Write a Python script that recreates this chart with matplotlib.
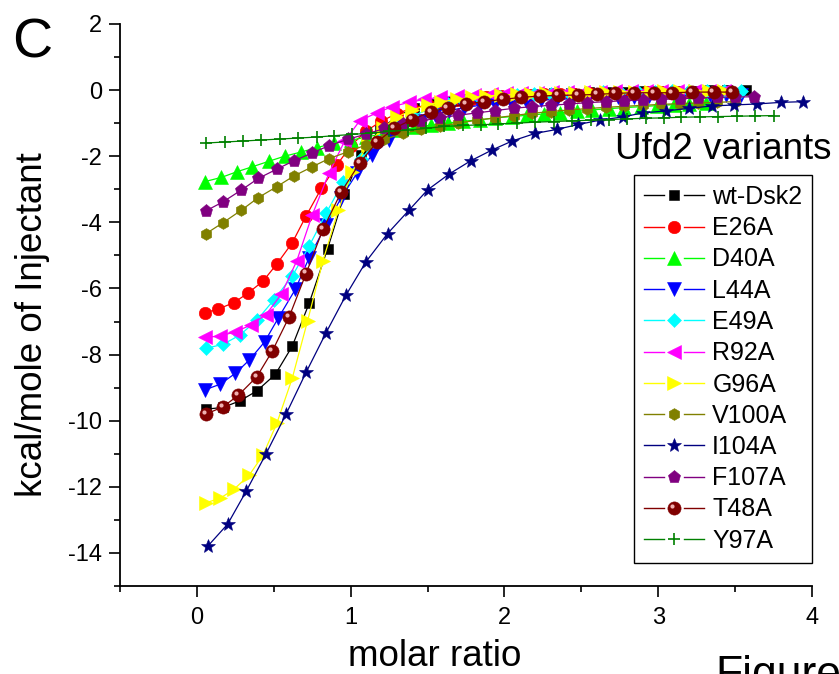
import matplotlib
matplotlib.use("Agg")
import matplotlib.pyplot as plt
from matplotlib.lines import Line2D
from matplotlib.legend_handler import HandlerBase
from matplotlib.ticker import MultipleLocator
from matplotlib.transforms import ScaledTranslation

plt.rcParams['font.family'] = ['Liberation Sans', 'DejaVu Sans']
plt.rcParams['axes.unicode_minus'] = False

# ---------------- data ----------------
labels = ["wt-Dsk2", "E26A", "D40A", "L44A", "E49A", "R92A", "G96A",
          "V100A", "I104A", "F107A", "T48A", "Y97A"]

x_wt = [0.06, 0.17, 0.28, 0.39, 0.51, 0.62, 0.73, 0.85, 0.96, 1.07, 1.19, 1.30, 1.41, 1.53, 1.64, 1.75,
        1.87, 1.98, 2.09, 2.21, 2.32, 2.43, 2.55, 2.66, 2.77, 2.89, 3.00, 3.11, 3.23, 3.34, 3.45, 3.57]
y_wt = [-9.65, -9.6, -9.4, -9.1, -8.6, -7.75, -6.45, -4.8, -3.15, -1.95, -1.2, -0.8, -0.55, -0.42, -0.33, -0.27,
        -0.22, -0.18, -0.15, -0.12, -0.1, -0.08, -0.07, -0.06, -0.05, -0.04, -0.03, -0.02, -0.02, -0.01, 0.0, 0.0]

x_e26a = [0.05, 0.14, 0.24, 0.33, 0.43, 0.52, 0.62, 0.71, 0.81, 0.91, 1.00, 1.10, 1.20, 1.30, 1.40, 1.50, 1.59, 1.69,
          1.79, 1.88, 1.98, 2.07, 2.17, 2.26, 2.36, 2.45, 2.55, 2.64, 2.74, 2.83, 2.93, 3.02, 3.12, 3.21, 3.31, 3.40]
y_e26a = [-6.74, -6.62, -6.43, -6.15, -5.78, -5.26, -4.62, -3.81, -2.97, -2.27, -1.69, -1.24, -0.94, -0.71, -0.55,
          -0.45, -0.37, -0.31, -0.26, -0.22, -0.19, -0.17, -0.15, -0.13, -0.12, -0.11, -0.1, -0.09, -0.08, -0.08,
          -0.07, -0.07, -0.06, -0.06, -0.05, -0.05]

x_d40a = [0.05, 0.16, 0.26, 0.36, 0.47, 0.57, 0.68, 0.78, 0.89, 1.00, 1.10, 1.21, 1.31, 1.42, 1.52, 1.63,
          1.73, 1.84, 1.94, 2.05, 2.15, 2.26, 2.36, 2.47, 2.57, 2.68, 2.78, 2.89, 2.99, 3.10, 3.20, 3.31]
y_d40a = [-2.77, -2.64, -2.47, -2.32, -2.15, -2.0, -1.87, -1.74, -1.61, -1.52, -1.42, -1.32, -1.22, -1.13, -1.06,
          -1.0, -0.94, -0.9, -0.84, -0.8, -0.76, -0.72, -0.68, -0.64, -0.6, -0.56, -0.53, -0.5, -0.47, -0.44,
          -0.41, -0.38]

x_l44a = [0.05, 0.15, 0.25, 0.34, 0.44, 0.53, 0.64, 0.73, 0.84, 0.94, 1.04, 1.14, 1.25, 1.35, 1.45, 1.55, 1.64, 1.74,
          1.84, 1.94, 2.04, 2.14, 2.24, 2.34, 2.44, 2.54, 2.64, 2.74, 2.84, 2.94, 3.04, 3.14, 3.24, 3.34, 3.44, 3.54]
y_l44a = [-9.07, -8.9, -8.57, -8.17, -7.62, -6.89, -6.03, -5.07, -4.08, -3.25, -2.52, -1.97, -1.51, -1.16, -0.92,
          -0.75, -0.62, -0.53, -0.46, -0.41, -0.37, -0.33, -0.3, -0.28, -0.26, -0.24, -0.22, -0.21, -0.2, -0.19,
          -0.18, -0.17, -0.16, -0.16, -0.15, -0.15]

x_e49a = [0.06, 0.17, 0.28, 0.39, 0.50, 0.62, 0.73, 0.84, 0.95, 1.07, 1.18, 1.29, 1.40, 1.52, 1.63, 1.74,
          1.85, 1.97, 2.08, 2.19, 2.30, 2.42, 2.53, 2.64, 2.75, 2.87, 2.98, 3.09, 3.20, 3.32, 3.43, 3.54]
y_e49a = [-7.81, -7.69, -7.41, -6.96, -6.35, -5.63, -4.72, -3.73, -2.79, -2.07, -1.5, -1.08, -0.78, -0.57, -0.43,
          -0.33, -0.26, -0.2, -0.16, -0.13, -0.11, -0.09, -0.08, -0.07, -0.06, -0.05, -0.05, -0.04, -0.04, -0.04,
          -0.03, -0.03]

x_r92a = [0.05, 0.15, 0.25, 0.35, 0.45, 0.55, 0.65, 0.75, 0.86, 0.96, 1.06, 1.17, 1.27, 1.38, 1.48, 1.58, 1.69,
          1.80, 1.91, 2.01, 2.11, 2.21, 2.31, 2.41, 2.51, 2.62, 2.72, 2.82, 2.92, 3.02, 3.12, 3.23, 3.33, 3.43]
y_r92a = [-7.48, -7.44, -7.31, -7.11, -6.79, -6.17, -5.16, -3.78, -2.5, -1.55, -0.92, -0.69, -0.5, -0.37, -0.28,
          -0.22, -0.17, -0.15, -0.12, -0.1, -0.09, -0.08, -0.07, -0.06, -0.05, -0.05, -0.04, -0.04, -0.03, -0.03,
          -0.03, -0.02, -0.02, -0.02]

x_g96a = [0.06, 0.15, 0.24, 0.34, 0.43, 0.52, 0.62, 0.72, 0.82, 0.92, 1.01, 1.11, 1.21, 1.30, 1.40, 1.50, 1.59, 1.69,
          1.79, 1.88, 1.98, 2.08, 2.17, 2.27, 2.37, 2.46, 2.56, 2.66, 2.75, 2.85, 2.95, 3.04, 3.14, 3.24, 3.33, 3.43]
y_g96a = [-12.48, -12.35, -12.08, -11.65, -11.04, -10.08, -8.72, -6.98, -5.16, -3.63, -2.47, -1.66, -1.15, -0.82,
          -0.6, -0.45, -0.35, -0.28, -0.22, -0.18, -0.15, -0.13, -0.11, -0.1, -0.09, -0.08, -0.07, -0.06, -0.06,
          -0.05, -0.05, -0.04, -0.04, -0.04, -0.03, -0.03]

x_v100a = [0.06, 0.17, 0.29, 0.40, 0.52, 0.63, 0.75, 0.86, 0.98, 1.10, 1.22, 1.34, 1.46, 1.58, 1.70, 1.82, 1.94,
           2.06, 2.18, 2.30, 2.42, 2.54, 2.66, 2.78, 2.90, 3.02, 3.14, 3.26, 3.38, 3.50]
y_v100a = [-4.34, -4.01, -3.63, -3.25, -2.92, -2.6, -2.32, -2.07, -1.87, -1.66, -1.49, -1.31, -1.19, -1.09, -1.0,
           -0.91, -0.84, -0.77, -0.7, -0.65, -0.6, -0.56, -0.52, -0.49, -0.46, -0.43, -0.41, -0.39, -0.37, -0.35]

x_i104a = [0.07, 0.20, 0.32, 0.45, 0.58, 0.71, 0.84, 0.97, 1.10, 1.24, 1.38, 1.50, 1.64, 1.78, 1.92, 2.05, 2.20,
           2.34, 2.48, 2.62, 2.77, 2.90, 3.05, 3.20, 3.35, 3.49, 3.64, 3.80, 3.94]
y_i104a = [-13.8, -13.13, -12.14, -11.0, -9.8, -8.54, -7.34, -6.2, -5.19, -4.34, -3.63, -3.02, -2.54, -2.14, -1.81,
           -1.54, -1.31, -1.19, -1.04, -0.91, -0.81, -0.69, -0.63, -0.55, -0.48, -0.45, -0.42, -0.37, -0.35]

x_f107a = [0.06, 0.17, 0.29, 0.40, 0.52, 0.63, 0.75, 0.86, 0.98, 1.10, 1.22, 1.34, 1.46, 1.58, 1.70, 1.82, 1.94,
           2.06, 2.18, 2.30, 2.42, 2.54, 2.66, 2.78, 2.90, 3.02, 3.14, 3.26, 3.38, 3.50, 3.62]
y_f107a = [-3.65, -3.38, -3.02, -2.67, -2.39, -2.14, -1.9, -1.68, -1.49, -1.33, -1.16, -1.03, -0.93, -0.84, -0.76,
           -0.69, -0.62, -0.55, -0.5, -0.46, -0.42, -0.38, -0.35, -0.32, -0.3, -0.28, -0.26, -0.24, -0.22, -0.21, -0.2]

x_t48a = [0.06, 0.17, 0.27, 0.39, 0.49, 0.60, 0.71, 0.82, 0.94, 1.06, 1.17, 1.28, 1.40, 1.52, 1.63, 1.75, 1.87,
          1.99, 2.11, 2.23, 2.35, 2.48, 2.60, 2.72, 2.84, 2.97, 3.09, 3.22, 3.36, 3.48]
y_t48a = [-9.8, -9.58, -9.23, -8.67, -7.9, -6.86, -5.55, -4.21, -3.07, -2.2, -1.58, -1.16, -0.89, -0.66, -0.53,
          -0.42, -0.35, -0.28, -0.22, -0.18, -0.16, -0.15, -0.13, -0.1, -0.08, -0.08, -0.08, -0.06, -0.06, -0.06]

x_y97a = [0.06, 0.18, 0.30, 0.42, 0.54, 0.66, 0.78, 0.89, 1.01, 1.13, 1.25, 1.37, 1.49, 1.61, 1.73, 1.85,
          1.96, 2.08, 2.20, 2.32, 2.44, 2.56, 2.68, 2.80, 2.92, 3.04, 3.15, 3.27, 3.39, 3.51, 3.63, 3.75]
y_y97a = [-1.6, -1.57, -1.54, -1.51, -1.48, -1.45, -1.42, -1.38, -1.34, -1.3, -1.25, -1.21, -1.16, -1.1, -1.07,
          -1.05, -1.02, -1.0, -0.97, -0.95, -0.93, -0.91, -0.89, -0.87, -0.85, -0.84, -0.82, -0.81, -0.8, -0.79,
          -0.78, -0.77]

xs = [x_wt, x_e26a, x_d40a, x_l44a, x_e49a, x_r92a, x_g96a, x_v100a, x_i104a, x_f107a, x_t48a, x_y97a]
ys = [y_wt, y_e26a, y_d40a, y_l44a, y_e49a, y_r92a, y_g96a, y_v100a, y_i104a, y_f107a, y_t48a, y_y97a]

x_ticks = [0, 1, 2, 3, 4]
y_ticks = [-14, -12, -10, -8, -6, -4, -2, 0, 2]

# ---------------- styles ----------------
colors = ["#000000", "#FF0000", "#00FF00", "#0000FF", "#00FFFF", "#FF00FF", "#FFFF00",
          "#808000", "#000080", "#800080", "#800000", "#008000"]
markers = ["s", "o", "^", "v", "D", "<", ">", "h", "*", "p", "o", "+"]
msizes = [7.5, 9, 9.5, 9.5, 7, 9.5, 9.5, 8.5, 10.5, 9.5, 9.5, 9]

fig = plt.figure(figsize=(8.39, 6.74), dpi=100)
ax = fig.add_axes([0.1430, 0.1306, 0.8248, 0.8338])

handles = []
for lab, x, y, c, m, s in zip(labels, xs, ys, colors, markers, msizes):
    mew = 1.2 if m == "+" else 0.4
    ln, = ax.plot(x, y, color=c, lw=0.9, marker=m, markersize=s,
                  markerfacecolor=c, markeredgecolor=c, markeredgewidth=mew, label=lab)
    handles.append(ln)
    if lab == "T48A":
        off = ax.transData + ScaledTranslation(-1.5 / 72, 1.5 / 72, fig.dpi_scale_trans)
        ax.plot(x, y, linestyle="none", marker="o", markersize=3.0,
                markerfacecolor="#f0b0b0", markeredgewidth=0, transform=off)

ax.set_xlim(-0.5, 4)
ax.set_ylim(-15, 2)
ax.set_xticks(x_ticks)
ax.set_yticks(y_ticks)
ax.xaxis.set_minor_locator(MultipleLocator(0.5))
ax.yaxis.set_minor_locator(MultipleLocator(1))
ax.tick_params(which="major", direction="out", length=8, width=1.2, labelsize=17, pad=7)
ax.tick_params(which="minor", direction="out", length=4, width=1.2)
ax.tick_params(axis="y", pad=5)
for side in ("top", "right"):
    ax.spines[side].set_visible(False)
for side in ("left", "bottom"):
    ax.spines[side].set_linewidth(1.3)


class GapLineHandler(HandlerBase):
    def create_artists(self, legend, orig_handle, xdescent, ydescent, width, height, fontsize, trans):
        y = (height - ydescent) / 2
        x0 = -xdescent
        c = orig_handle.get_color()
        l1 = Line2D([x0, x0 + 0.33 * width], [y, y], color=c, lw=1.0)
        l2 = Line2D([x0 + 0.67 * width, x0 + width], [y, y], color=c, lw=1.0)
        mk = Line2D([x0 + 0.5 * width], [y], linestyle="none", marker=orig_handle.get_marker(),
                    markersize=orig_handle.get_markersize(),
                    markerfacecolor=orig_handle.get_markerfacecolor(),
                    markeredgecolor=orig_handle.get_markeredgecolor(),
                    markeredgewidth=orig_handle.get_markeredgewidth())
        arts = [l1, l2, mk]
        for a in arts:
            a.set_transform(trans)
        if orig_handle.get_label() == "T48A":
            hl = Line2D([x0 + 0.5 * width], [y], linestyle="none", marker="o", markersize=3.0,
                        markerfacecolor="#f0b0b0", markeredgewidth=0)
            hl.set_transform(trans + ScaledTranslation(-1.5 / 72, 1.5 / 72, legend.figure.dpi_scale_trans))
            arts.append(hl)
        return arts


leg = ax.legend(handles, labels, handler_map={Line2D: GapLineHandler()},
                loc="upper left", bbox_to_anchor=(634 / 839, (674 - 175) / 674),
                bbox_transform=fig.transFigure, borderaxespad=0, fontsize=18,
                frameon=True, fancybox=False, framealpha=1, edgecolor="black",
                borderpad=0.4, labelspacing=0.29, handlelength=2.4, handletextpad=0.33)
leg.get_frame().set_linewidth(1.0)

fig.text(0.015, (674 - 57) / 674, "C", fontsize=40, ha="left", va="baseline")
fig.text(33 / 839, (674 - 325) / 674, "kcal/mole of Injectant", fontsize=26.5,
         rotation=90, ha="center", va="center")
fig.text(434.5 / 839, (674 - 666) / 674, "molar ratio", fontsize=26.5, ha="center", va="baseline")
fig.text(615 / 839, (674 - 159) / 674, "Ufd2 variants", fontsize=26.5, ha="left", va="baseline")
fig.text(715 / 839, -0.02, "Figure", fontsize=32, ha="left", va="baseline")

fig.savefig("out.png", dpi=100)
